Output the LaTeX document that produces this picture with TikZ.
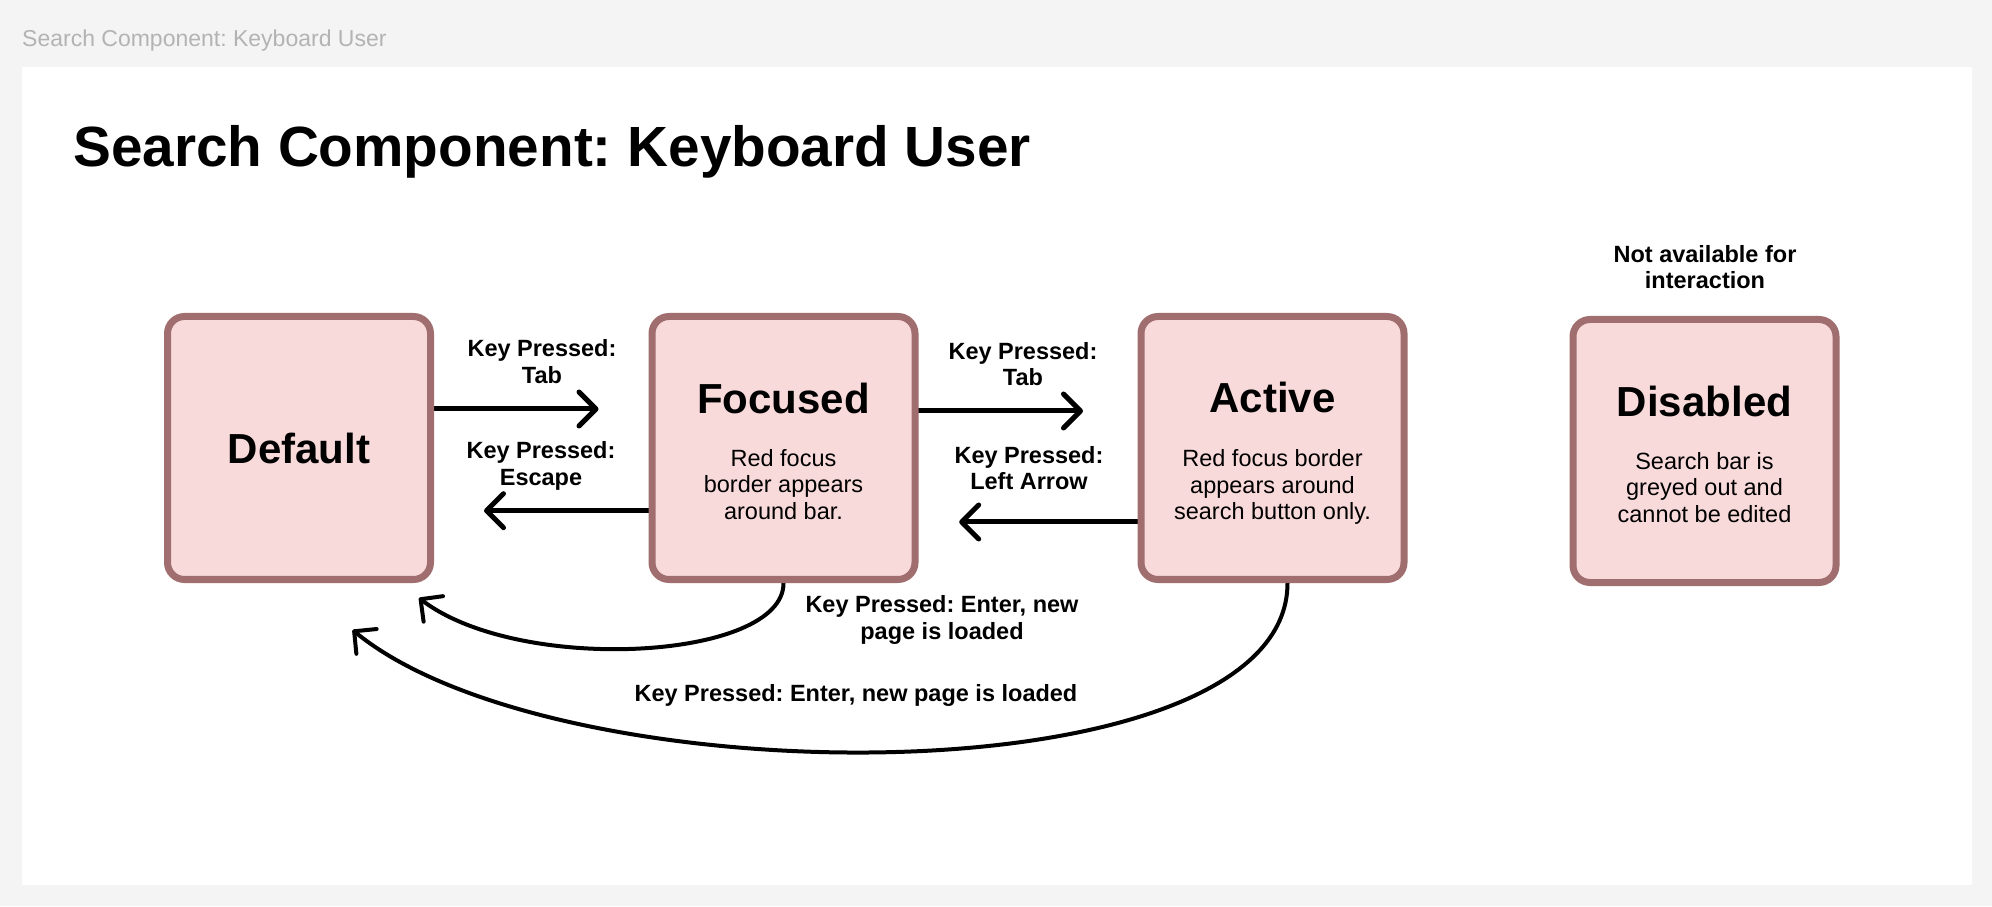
\documentclass[tikz,border=0pt]{standalone}
\usepackage{fontspec}
\setmainfont{Liberation Sans}
\usetikzlibrary{arrows.meta,calc}
\definecolor{bggray}{HTML}{F4F4F4}
\definecolor{boxfill}{HTML}{F9DADB}
\definecolor{boxline}{HTML}{A06E6E}
\definecolor{hdrgray}{HTML}{B3B3B3}
\pgfdeclarelayer{bg}
\pgfsetlayers{bg,main}
\frenchspacing
\begin{document}
\frenchspacing
\begin{tikzpicture}[x=1pt,y=1pt,
  statebox/.style={draw=boxline, fill=boxfill, line width=7pt, rounded corners=17pt,
    minimum width=263pt, minimum height=263pt, inner sep=0pt},
  stitle/.style={font=\fontsize{42}{48}\selectfont\bfseries, anchor=base, inner sep=0pt},
  sdesc/.style={font=\fontsize{23.5}{26.5}\selectfont, align=center, inner sep=0pt,
    execute at begin node=\strut, execute at end node=\strut},
  lbl/.style={font=\fontsize{23.5}{26.5}\selectfont\bfseries, align=center, inner sep=0pt,
    execute at begin node=\strut, execute at end node=\strut},
  arr/.style={line width=5pt, line cap=round, -{Straight Barb[length=17pt,width=34pt,round]}},
  carr/.style={line width=4pt, line cap=round, -{Straight Barb[length=16pt,width=32pt,round]}},
]
\useasboundingbox (0,0) rectangle (1992,906);

% header and title
\node[anchor=base west, inner sep=0pt, font=\fontsize{23}{27}\selectfont, text=hdrgray] (hdr) at (22,859.3) {Search Component: Keyboard User};
\node[anchor=base west, inner sep=0pt, font=\fontsize{56.7}{64}\selectfont\bfseries] (title) at (73,739.3) {Search Component: Keyboard User};

% state boxes
\node[statebox] (default) at (299,458) {};
\node[statebox] (focused) at (783.5,458) {};
\node[statebox] (active) at (1272.5,458) {};
\node[statebox] (disabled) at (1704.5,455) {};

\node[stitle] (defaultT) at ($(default.center)+(0,-15.3)$) {Default};
\node[stitle] (focusedT) at ($(focused.center)+(0,34)$) {Focused};
\node[stitle] (activeT) at ($(active.center)+(0,35)$) {Active};
\node[stitle] (disabledT) at ($(disabled.center)+(0,34.3)$) {Disabled};

\node[sdesc] (focusedD) at ($(focused.center)+(0,-40)$) {Red focus\\border appears\\around bar.};
\node[sdesc] (activeD) at ($(active.center)+(0,-40.5)$) {Red focus border\\appears around\\search button only.};
\node[sdesc] (disabledD) at ($(disabled.center)+(0,-40)$) {Search bar is\\greyed out and\\cannot be edited};

% labels
\node[lbl] (l1) at (542,540.5) {Key Pressed:\\Tab};
\node[lbl] (l2) at (541,438.5) {Key Pressed:\\Escape};
\node[lbl] (l3) at (1023,538) {Key Pressed:\\Tab};
\node[lbl] (l4) at (1029,434.2) {Key Pressed:\\Left Arrow};
\node[lbl] (l5) at (1705,635) {Not available for\\interaction};
\node[lbl] (l6) at (942,284.7) {Key Pressed: Enter, new\\page is loaded};
\node[lbl] (l7) at (856,210.3) {Key Pressed: Enter, new page is loaded};

\coordinate (c1end) at (419,308);
\coordinate (c2end) at (352.6,276);

\begin{pgfonlayer}{bg}
\fill[bggray] (0,0) rectangle (1992,906);
\fill[white] (22,21) rectangle (1972,839);
\draw[arr, shorten >=50pt] ([yshift=39pt]default.east) -- ([yshift=39pt]focused.west);
\draw[arr, shorten >=50pt] ([yshift=-62.7pt]focused.west) -- ([yshift=-62.7pt]default.east);
\draw[arr, shorten >=54.5pt] ([yshift=37pt]focused.east) -- ([yshift=37pt]active.west);
\draw[arr, shorten >=40.7pt] ([yshift=-74pt]active.west) -- ([yshift=-74pt]focused.east);
\draw[carr] (focused.south) .. controls (784,246) and (520,231) .. (c1end);
\draw[carr] ([xshift=15pt]active.south) .. controls (1288,106) and (560,106) .. (c2end);
\end{pgfonlayer}
\end{tikzpicture}
\end{document}
